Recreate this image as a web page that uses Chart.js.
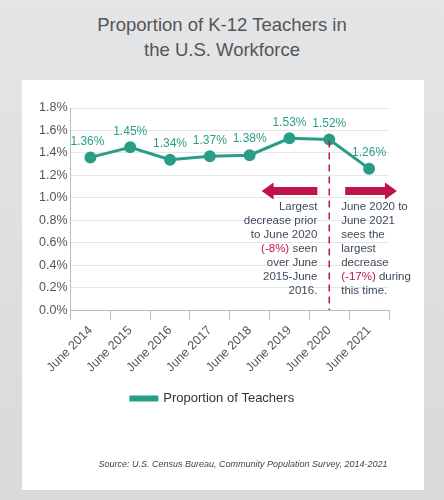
<!DOCTYPE html>
<html><head><meta charset="utf-8">
<script src="https://cdn.jsdelivr.net/npm/chart.js@4"></script>
<style>
body{margin:0;width:444px;height:500px;background:linear-gradient(#e4e5e7,#d8d9db);font-family:"Liberation Sans",Arial,sans-serif;position:relative;overflow:hidden}
#t{position:absolute;top:12px;left:0;width:444px;text-align:center;font-size:18.5px;color:#555;line-height:25px}
#card{position:absolute;left:22px;top:80px;width:402px;height:410px;background:#fff}
#c{position:absolute;left:0;top:0}
#src{position:absolute;left:0;width:402px;top:379px;text-align:center;font-size:9px;font-style:italic;color:#444;padding-left:40px;box-sizing:border-box}
</style></head><body>
<div id="t">Proportion of K-12 Teachers in<br>the U.S. Workforce</div>
<div id="card"><canvas id="c" width="402" height="410"></canvas>
<div id="src">Source: U.S. Census Bureau, Community Population Survey, 2014-2021</div></div>
<script>
const categories=["June 2014","June 2015","June 2016","June 2017","June 2018","June 2019","June 2020","June 2021"];
const teachers=[1.36,1.45,1.34,1.37,1.38,1.53,1.52,1.26];
const leftNote=["Largest","decrease prior","to June 2020",["(-8%)"," seen"],"over June","2015-June","2016."];
const rightNote=["June 2020 to","June 2021","sees the","largest","decrease",["(-17%)"," during"],"this time."];
const green="#2a9d86",red="#c0134a",txt="#3d4b5c";
const ann={id:"ann",afterDatasetsDraw(ch){
 const c=ch.ctx,x=ch.scales.x,y=ch.scales.y;c.save();
 const dx=x.getPixelForValue(6);
 c.strokeStyle=red;c.lineWidth=1.5;c.setLineDash([7,5]);
 c.beginPath();c.moveTo(dx,y.getPixelForValue(1.51));c.lineTo(dx,y.bottom);c.stroke();c.setLineDash([]);
 function arrow(x1,x2,yy,dir){c.fillStyle=red;const h=4,ah=8.5,al=12;
  c.beginPath();
  if(dir<0){c.moveTo(x1,yy);c.lineTo(x1+al,yy-ah);c.lineTo(x1+al,yy-h);c.lineTo(x2,yy-h);c.lineTo(x2,yy+h);c.lineTo(x1+al,yy+h);c.lineTo(x1+al,yy+ah);}
  else{c.moveTo(x2,yy);c.lineTo(x2-al,yy-ah);c.lineTo(x2-al,yy-h);c.lineTo(x1,yy-h);c.lineTo(x1,yy+h);c.lineTo(x2-al,yy+h);c.lineTo(x2-al,yy+ah);}
  c.closePath();c.fill();}
 const ay=y.getPixelForValue(1.06);
 arrow(x.getPixelForValue(4.3),x.getPixelForValue(5.7),ay,-1);
 arrow(x.getPixelForValue(6.4),x.getPixelForValue(7.7),ay,1);
 c.font="11.5px 'Liberation Sans',Arial";c.textBaseline="middle";
 const y0=y.getPixelForValue(0.92),lh=14;
 const lx=x.getPixelForValue(5.7);
 leftNote.forEach((l,i)=>{const yy=y0+i*lh;c.textAlign="right";
  if(Array.isArray(l)){c.fillStyle=txt;c.fillText(l[1],lx,yy);const w=c.measureText(l[1]).width;c.fillStyle=red;c.fillText(l[0],lx-w,yy);}
  else{c.fillStyle=txt;c.fillText(l,lx,yy);}});
 const rx=x.getPixelForValue(6.3);
 rightNote.forEach((l,i)=>{const yy=y0+i*lh;c.textAlign="left";
  if(Array.isArray(l)){c.fillStyle=red;c.fillText(l[0],rx,yy);const w=c.measureText(l[0]).width;c.fillStyle=txt;c.fillText(l[1],rx+w,yy);}
  else{c.fillStyle=txt;c.fillText(l,rx,yy);}});
 c.fillStyle=green;c.textAlign="center";c.textBaseline="bottom";c.font="12px 'Liberation Sans',Arial";
 const m=ch.getDatasetMeta(0);
 m.data.forEach((p,i)=>{c.fillText(teachers[i].toFixed(2)+"%",p.x-(i==0?3:0),p.y-10);});
 c.restore();}};
new Chart(document.getElementById("c"),{type:"line",
 data:{labels:categories,datasets:[{label:"Proportion of Teachers",data:teachers,borderColor:green,backgroundColor:green,borderWidth:3,pointRadius:4.5,pointHoverRadius:4.5}]},
 options:{responsive:false,animation:false,
  layout:{padding:{left:14,right:35,top:28,bottom:75}},
  plugins:{legend:{position:"bottom",labels:{color:"#333",font:{size:13,family:"'Liberation Sans',Arial"},boxWidth:26,boxHeight:3,padding:14}},tooltip:{enabled:false}},
  scales:{y:{min:0,max:1.8,ticks:{stepSize:0.2,color:"#555",font:{size:12.5},callback:v=>v.toFixed(1)+"%"},grid:{color:"#e6e6e6",drawTicks:false},border:{display:true,color:"#bbb"}},
   x:{offset:true,ticks:{color:"#555",font:{size:12.5},maxRotation:45,minRotation:45},grid:{display:true,drawOnChartArea:false,color:"#bbb",tickLength:10,offset:true},border:{color:"#bbb"}}}},
 plugins:[ann]});
</script></body></html>
